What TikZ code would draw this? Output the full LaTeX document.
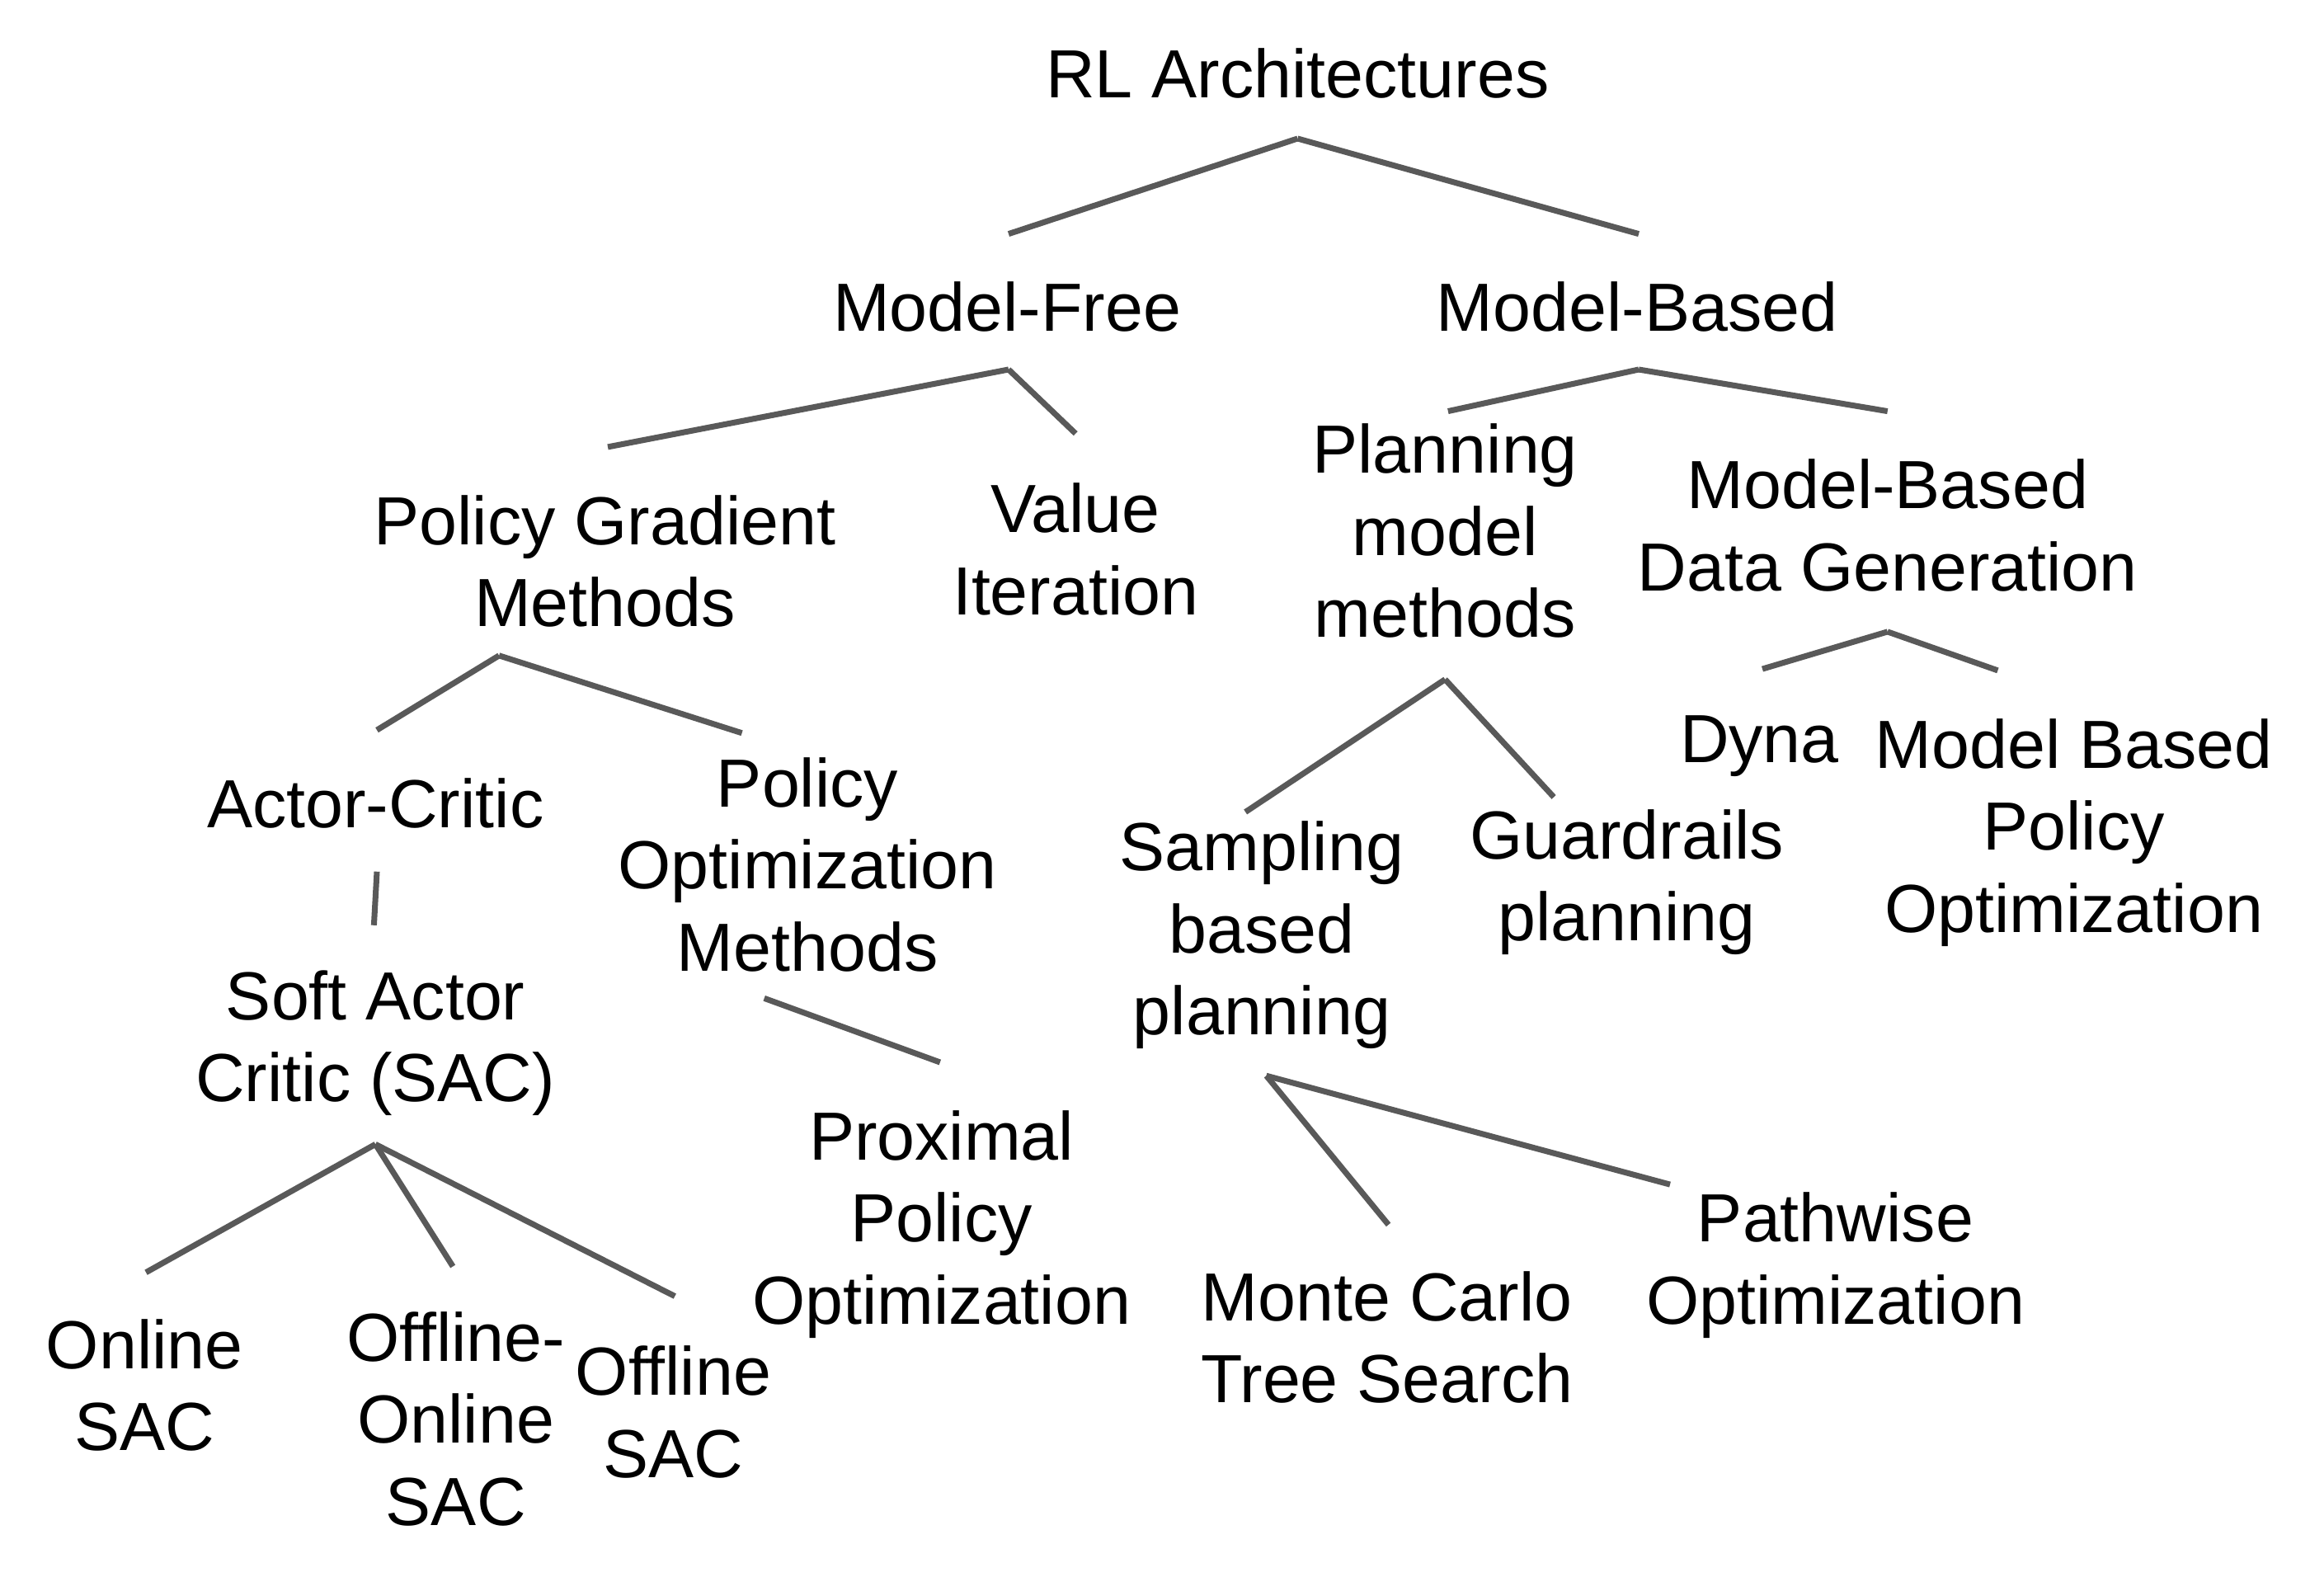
\documentclass[tikz,border=0pt]{standalone}
\usepackage{fontspec}
\setmainfont{Liberation Sans}
\usepackage{xcolor}
\usepackage{tikz}
\definecolor{edgegray}{HTML}{595959}
\tikzset{tree node/.style={anchor=north,align=center,inner sep=0pt,font=\fontsize{23.5}{28.3}\selectfont},
tree edge/.style={draw=edgegray,line width=2pt},}

\begin{document}
\begin{tikzpicture}[x=0.018064cm,y=-0.018064cm]
    \useasboundingbox (0,0) rectangle (1560,1058);

    \node[tree node] (rl) at (871,32) {RL Architectures};
    \node[tree node] (mf) at (676,189) {Model-Free};
    \node[tree node] (mb) at (1099,189) {Model-Based};
    \node[tree node] (pgm) at (406,332) {Policy Gradient\\Methods};
    \node[tree node] (vi) at (722,324) {Value\\Iteration};
    \node[tree node] (pmm) at (970,284) {Planning\\model\\methods};
    \node[tree node] (mbdg) at (1267,308) {Model-Based\\Data Generation};
    \node[tree node] (ac) at (252,522) {Actor-Critic};
    \node[tree node] (pom) at (542,508) {Policy\\Optimization\\Methods};
    \node[tree node] (sac) at (252,651) {Soft Actor\\Critic (SAC)};
    \node[tree node] (on) at (97,885) {Online\\SAC};
    \node[tree node] (ofon) at (306,880) {Offline-\\Online\\SAC};
    \node[tree node] (of) at (452,903) {Offline\\SAC};
    \node[tree node] (ppo) at (632,745) {Proximal\\Policy\\Optimization};
    \node[tree node] (sbp) at (847,551) {Sampling\\based\\planning};
    \node[tree node] (gp) at (1092,543) {Guardrails\\planning};
    \node[tree node] (dyna) at (1181,480) {Dyna};
    \node[tree node] (mbpo) at (1392,482) {Model Based\\Policy\\Optimization};
    \node[tree node] (mcts) at (931,853) {Monte Carlo\\Tree Search};
    \node[tree node] (po) at (1232,800) {Pathwise\\Optimization};

    \coordinate (rl-j) at (871,93);
    \coordinate (mf-t) at (677,157);
    \coordinate (mb-t) at (1100,157);
    \coordinate (mf-j) at (677,248);
    \coordinate (pgm-t) at (408,300);
    \coordinate (vi-t) at (722,291);
    \coordinate (mb-j) at (1100,248);
    \coordinate (pmm-t) at (972,276);
    \coordinate (mbdg-t) at (1267,276);
    \coordinate (pgm-j) at (335,440);
    \coordinate (ac-t) at (253,490);
    \coordinate (pom-t) at (498,492);
    \coordinate (ac-j) at (253,585);
    \coordinate (sac-t) at (251,621);
    \coordinate (pom-j) at (513,670);
    \coordinate (ppo-t) at (631,713);
    \coordinate (sac-j) at (252,768);
    \coordinate (on-t) at (98,854);
    \coordinate (ofon-t) at (304,850);
    \coordinate (of-t) at (453,870);
    \coordinate (pmm-j) at (970,456);
    \coordinate (sbp-t) at (836,545);
    \coordinate (gp-t) at (1043,535);
    \coordinate (mbdg-j) at (1267,424);
    \coordinate (dyna-t) at (1183,449);
    \coordinate (mbpo-t) at (1341,450);
    \coordinate (sbp-j) at (850,722);
    \coordinate (mcts-t) at (932,822);
    \coordinate (po-t) at (1121,795);

    \path[tree edge]
    (rl-j) edge (mf-t)
    (rl-j) edge (mb-t)
    (mf-j) edge (pgm-t)
    (mf-j) edge (vi-t)
    (mb-j) edge (pmm-t)
    (mb-j) edge (mbdg-t)
    (pgm-j) edge (ac-t)
    (pgm-j) edge (pom-t)
    (ac-j) edge (sac-t)
    (pom-j) edge (ppo-t)
    (sac-j) edge (on-t)
    (sac-j) edge (ofon-t)
    (sac-j) edge (of-t)
    (pmm-j) edge (sbp-t)
    (pmm-j) edge (gp-t)
    (mbdg-j) edge (dyna-t)
    (mbdg-j) edge (mbpo-t)
    (sbp-j) edge (mcts-t)
    (sbp-j) edge (po-t)
    ;
\end{tikzpicture}
\end{document}
